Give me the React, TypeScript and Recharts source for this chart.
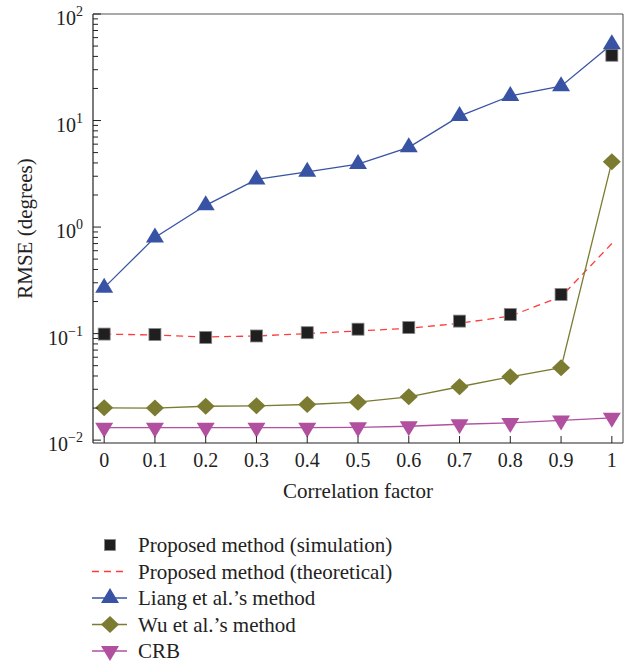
import React from "react";
import { LineChart, Line, XAxis, YAxis, ReferenceLine, Label } from "recharts";

const corr = [0, 0.1, 0.2, 0.3, 0.4, 0.5, 0.6, 0.7, 0.8, 0.9, 1];
const proposedSim = [0.099, 0.098, 0.092, 0.095, 0.102, 0.11, 0.114, 0.131, 0.151, 0.233, 41];
const proposedTheo = [0.099, 0.097, 0.093, 0.095, 0.1, 0.106, 0.112, 0.125, 0.146, 0.222, 0.7];
const liang = [0.27, 0.8, 1.6, 2.8, 3.3, 3.9, 5.6, 11, 17, 21, 52];
const wu = [0.0201, 0.02, 0.0208, 0.021, 0.0216, 0.0227, 0.0255, 0.0317, 0.0393, 0.0478, 4.1];
const crb = [0.0131, 0.0131, 0.0131, 0.0131, 0.0131, 0.0132, 0.0135, 0.0141, 0.0145, 0.0153, 0.0162];

const yMajor = [0.01, 0.1, 1, 10, 100];
const yExp = ["\u22122", "\u22121", "0", "1", "2"];
const yMinorMult = [2, 3, 4, 5, 6, 7, 8, 9];

const yTicks = [
  ...yMajor.slice(0, 4).flatMap((d) => [d, ...yMinorMult.map((m) => m * d)]),
  100,
];

const data = corr.map((c, i) => ({
  x: c,
  sim: proposedSim[i],
  theo: proposedTheo[i],
  liang: liang[i],
  wu: wu[i],
  crb: crb[i],
}));

const BLUE = "#3953a4";
const OLIVE = "#7b7b32";
const PINK = "#b1509f";
const RED = "#ff3b3b";
const FONT = '"Liberation Serif", "Times New Roman", serif';

const square = (cx: number, cy: number, s: number) => (
  <rect x={cx - s / 2} y={cy - s / 2} width={s} height={s} fill="#1f1f1f" stroke="#888" strokeWidth={0.8} />
);
const triUp = (cx: number, cy: number, fill: string) => (
  <path d={`M${cx},${cy - 10} L${cx + 9},${cy + 5} L${cx - 9},${cy + 5} Z`} fill={fill} />
);
const triDown = (cx: number, cy: number, fill: string) => (
  <path d={`M${cx - 9},${cy - 5} L${cx + 9},${cy - 5} L${cx},${cy + 10} Z`} fill={fill} />
);
const diamond = (cx: number, cy: number, fill: string) => (
  <path d={`M${cx},${cy - 8.5} L${cx + 9},${cy} L${cx},${cy + 8.5} L${cx - 9},${cy} Z`} fill={fill} />
);

function YTick(props: any) {
  const { x, y, payload } = props;
  const idx = yMajor.indexOf(payload.value);
  const major = idx >= 0;
  return (
    <g>
      <line x1={x} x2={x + (major ? 8 : 5)} y1={y} y2={y} stroke="#222" strokeWidth={1} />
      {major && (
        <text x={x - 10} y={y + 11} textAnchor="end" fontSize={20} fontFamily={FONT} fill="#222">
          10<tspan dy={-9} fontSize={14}>{yExp[idx]}</tspan>
        </text>
      )}
    </g>
  );
}

function XTick(props: any) {
  const { x, y, payload } = props;
  return (
    <g>
      <line x1={x} x2={x} y1={y} y2={y - 7} stroke="#222" strokeWidth={1} />
      <text x={x} y={y + 24} textAnchor="middle" fontSize={20} fontFamily={FONT} fill="#222">
        {payload.value}
      </text>
    </g>
  );
}

const legendRows = [
  { label: "Proposed method (simulation)", kind: "square" },
  { label: "Proposed method (theoretical)", kind: "dash" },
  { label: "Liang et al.\u2019s method", kind: "liang" },
  { label: "Wu et al.\u2019s method", kind: "wu" },
  { label: "CRB", kind: "crb" },
];

function ChartLegend() {
  return (
    <svg width={634} height={145} style={{ position: "absolute", left: 0, top: 520 }}>
      {legendRows.map((r, i) => {
        const cy = 25 + i * 26.5;
        return (
          <g key={r.label}>
            {r.kind === "square" && square(110, cy, 11)}
            {r.kind === "dash" && (
              <line x1={92} x2={127} y1={cy} y2={cy} stroke={RED} strokeWidth={1.3} strokeDasharray="7 5" />
            )}
            {r.kind === "liang" && (
              <g>
                <line x1={92} x2={127} y1={cy} y2={cy} stroke={BLUE} strokeWidth={1.3} />
                {triUp(110, cy, BLUE)}
              </g>
            )}
            {r.kind === "wu" && (
              <g>
                <line x1={92} x2={127} y1={cy} y2={cy} stroke={OLIVE} strokeWidth={1.3} />
                {diamond(110, cy, OLIVE)}
              </g>
            )}
            {r.kind === "crb" && (
              <g>
                <line x1={92} x2={127} y1={cy} y2={cy} stroke={PINK} strokeWidth={1.3} />
                {triDown(110, cy, PINK)}
              </g>
            )}
            <text x={138} y={cy + 7} fontSize={21} fontFamily={FONT} fill="#222">
              {r.label}
            </text>
          </g>
        );
      })}
    </svg>
  );
}

export default function App() {
  return (
    <div style={{ position: "absolute", left: 0, top: 0, width: 634, height: 665, background: "#fff", fontFamily: FONT }}>
      <LineChart width={634} height={665} data={data} margin={{ top: 14, right: 11, left: 0, bottom: 162 }}>
        <XAxis
          dataKey="x"
          type="number"
          domain={[-0.022, 1.022]}
          ticks={corr}
          interval={0}
          allowDataOverflow
          tickSize={0}
          tickMargin={0}
          tickLine={false}
          tick={<XTick />}
          axisLine={{ stroke: "#222", strokeWidth: 1.2 }}
          height={60}
        >
          <Label value="Correlation factor" position="insideBottom" offset={5} fontSize={21} fontFamily={FONT} fill="#222" />
        </XAxis>
        <YAxis
          type="number"
          scale="log"
          domain={[0.0094, 100]}
          ticks={yTicks}
          interval={0}
          allowDataOverflow
          tickSize={0}
          tickMargin={0}
          tickLine={false}
          tick={<YTick />}
          axisLine={{ stroke: "#222", strokeWidth: 1.2 }}
          width={93}
        >
          <Label
            content={(p: any) => {
              const vb = p.viewBox || { x: 0, y: 14, width: 93, height: 429 };
              const cx = vb.x + 25;
              const cy = vb.y + vb.height / 2;
              return (
                <text
                  x={cx}
                  y={cy}
                  transform={`rotate(-90 ${cx} ${cy})`}
                  textAnchor="middle"
                  dominantBaseline="central"
                  fontSize={21}
                  fontFamily={FONT}
                  fill="#222"
                >
                  RMSE (degrees)
                </text>
              );
            }}
          />
        </YAxis>
        <ReferenceLine y={100} stroke="#555" strokeWidth={1.2} />
        <ReferenceLine x={1.022} stroke="#666" strokeWidth={1.2} />
        <Line
          dataKey="sim"
          stroke="none"
          isAnimationActive={false}
          dot={(p: any) => <g key={`s${p.index}`}>{square(p.cx, p.cy, 12)}</g>}
          activeDot={false}
        />
        <Line
          dataKey="theo"
          stroke={RED}
          strokeWidth={1.3}
          strokeDasharray="7 5"
          dot={false}
          activeDot={false}
          isAnimationActive={false}
        />
        <Line
          dataKey="crb"
          stroke={PINK}
          strokeWidth={1.3}
          isAnimationActive={false}
          dot={(p: any) => <g key={`c${p.index}`}>{triDown(p.cx, p.cy, PINK)}</g>}
          activeDot={false}
        />
        <Line
          dataKey="wu"
          stroke={OLIVE}
          strokeWidth={1.3}
          isAnimationActive={false}
          dot={(p: any) => <g key={`w${p.index}`}>{diamond(p.cx, p.cy, OLIVE)}</g>}
          activeDot={false}
        />
        <Line
          dataKey="liang"
          stroke={BLUE}
          strokeWidth={1.3}
          isAnimationActive={false}
          dot={(p: any) => <g key={`l${p.index}`}>{triUp(p.cx, p.cy, BLUE)}</g>}
          activeDot={false}
        />
      </LineChart>
      <ChartLegend />
    </div>
  );
}
